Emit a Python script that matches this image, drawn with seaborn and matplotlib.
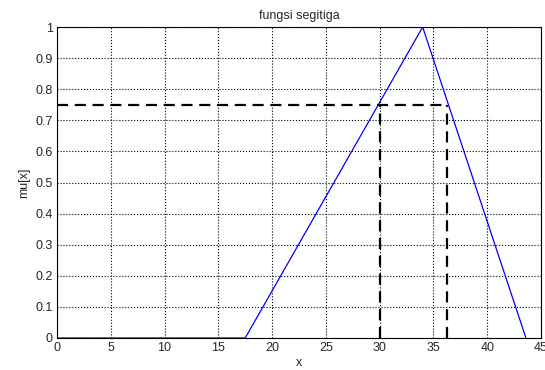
import pandas as pd
import seaborn as sns
import matplotlib.pyplot as plt

# ---- data ----
x_pts = [0, 17.5, 34, 43.6]
mu_pts = [0, 0, 1, 0]
cut_level = 0.75
cut_left = 30
cut_right = 36.3

df = pd.DataFrame({"x": x_pts, "mu": mu_pts})

sns.set_style("white")
plt.rcParams["font.family"] = ["Liberation Sans", "DejaVu Sans"]
plt.rcParams["xtick.direction"] = "in"
plt.rcParams["ytick.direction"] = "in"

fig = plt.figure(figsize=(5.45, 3.7), dpi=100)
ax = fig.add_axes([0.1046, 0.0865, 0.888, 0.8405])

sns.lineplot(data=df, x="x", y="mu", color="blue", linewidth=0.9, ax=ax)

# garis putus-putus alpha cut
ax.plot([0, cut_right], [cut_level, cut_level], color="black", linestyle="--", linewidth=1.6, dashes=(5, 3))
ax.plot([cut_left, cut_left], [0, cut_level], color="black", linestyle="--", linewidth=1.6, dashes=(5, 3))
ax.plot([cut_right, cut_right], [0, cut_level], color="black", linestyle="--", linewidth=1.6, dashes=(5, 3))

ax.set_xlim(0, 45)
ax.set_ylim(0, 1)
ax.set_xticks(range(0, 46, 5))
ax.set_yticks([i / 10 for i in range(11)])
ax.set_yticklabels(["0", "0.1", "0.2", "0.3", "0.4", "0.5", "0.6", "0.7", "0.8", "0.9", "1"])
ax.grid(True, color="black", linestyle=":", linewidth=0.8)
ax.tick_params(labelsize=9, length=3, color="black", pad=3)
for s in ax.spines.values():
    s.set_color("black")
    s.set_linewidth(0.8)

ax.set_title("fungsi segitiga", fontsize=9, pad=6)
ax.set_xlabel("x", fontsize=9, labelpad=2)
ax.set_ylabel("mu[x]", fontsize=9, labelpad=4)

fig.savefig("out.png", dpi=100)
